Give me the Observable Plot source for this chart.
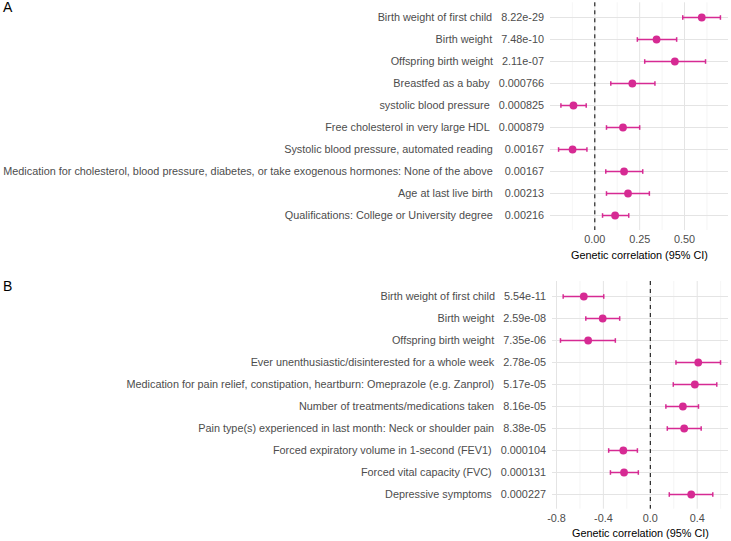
<!DOCTYPE html>
<html>
<head>
<meta charset="utf-8">
<script src="https://cdn.jsdelivr.net/npm/d3@7"></script>
<script src="https://cdn.jsdelivr.net/npm/@observablehq/plot@0.6"></script>
<style>
  html, body { margin: 0; padding: 0; background: #fff; }
  #wrap { position: relative; width: 731px; height: 541px; font-family: "Liberation Sans", Arial, sans-serif; }
  .panel { position: absolute; left: 0; }
  .tag { position: absolute; left: 3px; font-size: 14px; color: #000; font-family: "Liberation Sans", Arial, sans-serif; z-index: 5; }
</style>
</head>
<body>
<div id="wrap">
  <div id="pa" class="panel" style="top:0px"></div>
  <div id="pb" class="panel" style="top:270px"></div>
  <div class="tag" style="top:-1px">A</div>
  <div class="tag" style="top:278px">B</div>
</div>
<script>
// ---------- Panel A data ----------
const traitsA = [
  "Birth weight of first child",
  "Birth weight",
  "Offspring birth weight",
  "Breastfed as a baby",
  "systolic blood pressure",
  "Free cholesterol in very large HDL",
  "Systolic blood pressure, automated reading",
  "Medication for cholesterol, blood pressure, diabetes, or take exogenous hormones: None of the above",
  "Age at last live birth",
  "Qualifications: College or University degree"
];
const pvalsA = ["8.22e-29", "7.48e-10", "2.11e-07", "0.000766", "0.000825", "0.000879", "0.00167", "0.00167", "0.00213", "0.00216"];
const rgA   = [0.596, 0.344, 0.446, 0.209, -0.119, 0.157, -0.124, 0.163, 0.185, 0.113];
const lowA  = [0.490, 0.237, 0.278, 0.089, -0.189, 0.065, -0.202, 0.061, 0.065, 0.043];
const highA = [0.700, 0.456, 0.617, 0.335, -0.048, 0.250, -0.044, 0.267, 0.304, 0.189];
const ticksA = [0, 0.25, 0.5];
const minorA = [-0.125, 0.125, 0.375, 0.625];

// ---------- Panel B data ----------
const traitsB = [
  "Birth weight of first child",
  "Birth weight",
  "Offspring birth weight",
  "Ever unenthusiastic/disinterested for a whole week",
  "Medication for pain relief, constipation, heartburn: Omeprazole (e.g. Zanprol)",
  "Number of treatments/medications taken",
  "Pain type(s) experienced in last month: Neck or shoulder pain",
  "Forced expiratory volume in 1-second (FEV1)",
  "Forced vital capacity (FVC)",
  "Depressive symptoms"
];
const pvalsB = ["5.54e-11", "2.59e-08", "7.35e-06", "2.78e-05", "5.17e-05", "8.16e-05", "8.38e-05", "0.000104", "0.000131", "0.000227"];
const rgB   = [-0.567, -0.406, -0.530, 0.409, 0.380, 0.278, 0.289, -0.230, -0.224, 0.349];
const lowB  = [-0.743, -0.550, -0.766, 0.219, 0.196, 0.133, 0.145, -0.355, -0.340, 0.162];
const highB = [-0.397, -0.261, -0.298, 0.599, 0.567, 0.411, 0.434, -0.110, -0.102, 0.533];
const ticksB = [-0.8, -0.4, 0, 0.4];
const minorB = [-0.6, -0.2, 0.2, 0.6];

const COLOR = "#D62A93";
const NB = "\u00a0";

function pad(p) { return p.length < 8 ? NB.repeat(8 - p.length) + p : p; }

// vertical bar symbol for error-bar caps
const capSymbol = {
  draw(ctx, size) {
    const h = Math.sqrt(size / Math.PI);
    ctx.moveTo(0, -h);
    ctx.lineTo(0, h);
  }
};

function panel({traits, pvals, rg, low, high, ticks, minor, domain, fmt, height, marginTop, marginBottom, marginLeft}) {
  const rows = traits.map((t, i) => ({trait: t, p: pvals[i], rg: rg[i], lo: low[i], hi: high[i]}));
  const lab = new Map(rows.map(r => [r.trait, r.trait + NB + NB + NB + pad(r.p)]));
  return Plot.plot({
    width: 731,
    height,
    marginTop,
    marginBottom,
    marginLeft,
    marginRight: 3,
    style: {fontFamily: "'Liberation Sans', Arial, sans-serif", fontSize: "10.85px", background: "#fff", overflow: "visible"},
    x: {domain, label: null},
    y: {type: "point", domain: traits, padding: 0.6, label: null},
    marks: [
      Plot.gridX(minor, {stroke: "#eeeeee", strokeOpacity: 1, strokeWidth: 0.6}),
      Plot.gridX(ticks, {stroke: "#e4e4e4", strokeOpacity: 1, strokeWidth: 1}),
      Plot.gridY(traits, {stroke: "#e4e4e4", strokeOpacity: 1, strokeWidth: 1}),
      Plot.ruleX([0], {stroke: "#000", strokeWidth: 1, strokeDasharray: "4,4"}),
      Plot.link(rows, {x1: "lo", x2: "hi", y1: "trait", y2: "trait", stroke: COLOR, strokeWidth: 1.5}),
      Plot.dot(rows, {x: "lo", y: "trait", symbol: capSymbol, r: 2.3, stroke: COLOR, strokeWidth: 1.5, fill: "none"}),
      Plot.dot(rows, {x: "hi", y: "trait", symbol: capSymbol, r: 2.3, stroke: COLOR, strokeWidth: 1.5, fill: "none"}),
      Plot.dot(rows, {x: "rg", y: "trait", r: 3.9, fill: COLOR, stroke: "none"}),
      Plot.axisY(traits, {tickSize: 0, tickPadding: 6.5, tickFormat: d => lab.get(d), color: "#4d4d4d", label: null}),
      Plot.axisX(ticks, {tickSize: 0, tickPadding: 5, tickFormat: fmt, color: "#4d4d4d", label: null}),
      Plot.axisX([], {tickSize: 0, label: "Genetic correlation (95% CI)", labelAnchor: "center", labelArrow: "none", labelOffset: 28, color: "#000"})
    ]
  });
}

document.getElementById("pa").append(panel({
  traits: traitsA, pvals: pvalsA, rg: rgA, low: lowA, high: highA,
  ticks: ticksA, minor: minorA, domain: [-0.247, 0.745], fmt: d => d.toFixed(2),
  height: 270, marginTop: 2.3, marginBottom: 40, marginLeft: 550
}));
document.getElementById("pb").append(panel({
  traits: traitsB, pvals: pvalsB, rg: rgB, low: lowB, high: highB,
  ticks: ticksB, minor: minorB, domain: [-0.834, 0.667], fmt: d => d.toFixed(1),
  height: 271, marginTop: 11, marginBottom: 32.3, marginLeft: 552
}));
</script>
</body>
</html>
